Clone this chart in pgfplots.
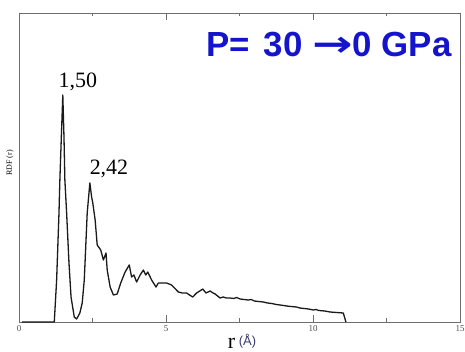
\documentclass[border=0pt]{standalone}
\usepackage{fontspec}
\setmainfont{Liberation Serif}
\newfontfamily\arial{Liberation Sans}
\newfontfamily\dejavu{DejaVu Sans}
\usepackage{graphicx}
\usepackage{pgfplots}
\pgfplotsset{compat=1.18}
\definecolor{titleblue}{RGB}{20,20,205}
\definecolor{axgray}{RGB}{110,110,110}
\begin{document}
\begin{tikzpicture}
\begin{axis}[
  at={(0,0)}, anchor=south west,
  scale only axis, width=441bp, height=309bp,
  xmin=0, xmax=15, ymin=0, ymax=3.09,
  axis line style={axgray, line width=0.7bp},
  xtick={0,5,10,15}, minor xtick={2.5,7.5,12.5},
  ytick=\empty,
  tick align=inside, major tick length=7bp, minor tick length=3.5bp,
  every tick/.style={axgray, line width=0.7bp},
  xticklabel style={font=\fontsize{9}{9}\selectfont, text=axgray!70!black},
  /pgf/number format/assume math mode=true,
  clip=false,
]
\addplot[black!90, line width=1.3bp, line join=round] coordinates {
(0.10,0) (1.20,0) (1.28,0.42) (1.36,1.09) (1.39,1.42) (1.44,1.85) (1.49,2.27)
(1.53,1.85) (1.56,1.42) (1.62,1.09) (1.70,0.59) (1.77,0.25) (1.88,0.05) (1.96,0.03)
(2.07,0.09) (2.15,0.19) (2.22,0.42) (2.32,1.09) (2.41,1.39) (2.47,1.25) (2.51,1.19)
(2.59,1.02) (2.66,0.77) (2.78,0.72) (2.87,0.62) (2.96,0.69) (3.00,0.52) (3.10,0.35)
(3.21,0.27) (3.34,0.28) (3.46,0.39) (3.61,0.50) (3.75,0.57) (3.83,0.45) (3.91,0.47)
(4.00,0.40) (4.12,0.47) (4.23,0.52) (4.31,0.47) (4.38,0.50) (4.51,0.42) (4.66,0.35)
(4.74,0.39) (5.02,0.39) (5.19,0.37) (5.42,0.30) (5.55,0.29) (5.70,0.29) (5.80,0.27)
(5.91,0.25) (6.04,0.29) (6.15,0.31) (6.25,0.33) (6.36,0.29) (6.50,0.31) (6.60,0.29)
(6.67,0.28) (6.84,0.24) (6.95,0.25) (7.05,0.24) (7.18,0.24) (7.30,0.235) (7.40,0.245)
(7.52,0.23) (7.65,0.225) (7.80,0.22) (7.90,0.225) (8.00,0.21) (8.15,0.205) (8.31,0.20)
(8.45,0.19) (8.60,0.185) (8.75,0.175) (8.88,0.17) (9.00,0.165) (9.10,0.16) (9.25,0.155)
(9.44,0.15) (9.55,0.14) (9.70,0.135) (9.85,0.13) (10.01,0.12) (10.10,0.125) (10.20,0.115)
(10.40,0.11) (10.58,0.10) (10.80,0.095) (11.03,0.09) (11.12,0.0)
};
\node[font=\fontsize{22}{22}\selectfont] at (axis cs:2.0,2.40) {1,50};
\node[font=\fontsize{22}{22}\selectfont] at (axis cs:3.06,1.53) {2,42};
\node[anchor=base east, text=titleblue, font=\arial\bfseries\fontsize{35}{35}\selectfont]
  at (rel axis cs:0.989,0.858) {P=\hspace{4bp} 30 {\dejavu\bfseries\fontsize{36}{36}\selectfont\scalebox{1.35}[1]{→}}0 GPa};
\end{axis}
\node[rotate=90, font=\fontsize{8}{8}\selectfont] at (-9bp,159bp) {RDF (r)};
\node[anchor=base, inner sep=0pt] at (223bp,-26.5bp)
  {\fontsize{22}{22}\selectfont r\,\raisebox{3bp}{\arial\fontsize{13}{13}\selectfont\color{titleblue!35!black!80}(Å)}};
\pgfresetboundingbox
\useasboundingbox (-19bp,-30bp) rectangle (446bp,322bp);
\end{tikzpicture}
\end{document}
